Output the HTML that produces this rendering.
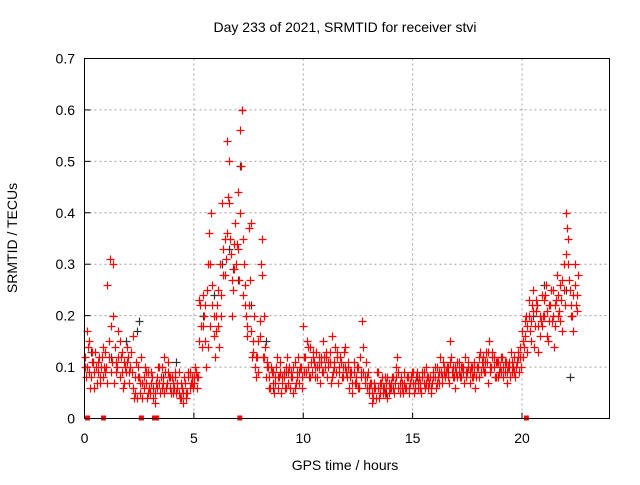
<!DOCTYPE html>
<html><head><meta charset="utf-8"><style>
body{margin:0;background:#fff;font-family:"Liberation Sans",sans-serif}
svg text{font-family:"Liberation Sans",sans-serif;font-size:14px;fill:#000}
</style></head><body>
<svg id="chart" width="640" height="480" xmlns="http://www.w3.org/2000/svg">
<rect width="640" height="480" fill="#fff"/>
<text x="345" y="32" text-anchor="middle">Day 233 of 2021, SRMTID for receiver stvi</text>
<text x="345" y="470" text-anchor="middle">GPS time / hours</text>
<text transform="translate(17,238) rotate(-90)" text-anchor="middle">SRMTID / TECUs</text>
<g id="grid"></g><g id="axes"></g><g id="marks"></g>
<rect x="84.5" y="58.5" width="525" height="360" fill="none" stroke="#000"/>
</svg>
<script>
const xTicks=[0,5,10,15,20];
const yTicks=[0,0.1,0.2,0.3,0.4,0.5,0.6,0.7];
const yTickLabels=["0","0.1","0.2","0.3","0.4","0.5","0.6","0.7"];
const redStart=0, redStep=0.1;
const redValuesA=[0.12,0.10,0.15,0.08,0.11,0.13,0.09,0.07,0.12,0.10,
0.10,0.12,0.09,0.30,0.14,0.10,0.08,0.13,0.11,0.09,
0.12,0.10,0.16,0.05,0.04,0.08,0.12,0.06,0.07,0.09,
0.05,0.08,0.03,0.06,0.10,0.08,0.07,0.09,0.11,0.06,
0.08,0.06,0.05,0.09,0.04,0.03,0.07,0.05,0.06,0.08,
0.07,0.09,0.08,0.22,0.18,0.15,0.25,0.36,0.40,0.20,
0.17,0.25,0.30,0.42,0.35,0.54,0.50,0.32,0.25,0.38,
0.44,0.56,0.60,0.30,0.20,0.37,0.38,0.15,0.10,0.12,
0.16,0.35,0.20,0.08,0.10,0.06,0.09,0.07,0.12,0.08,
0.05,0.09,0.10,0.07,0.06,0.08,0.11,0.09,0.07,0.10,
0.18,0.12,0.10,0.14,0.09,0.11,0.13,0.10,0.12,0.15,
0.10,0.08,0.13,0.16,0.11,0.09,0.07,0.12,0.10,0.14,
0.08,0.06,0.09,0.11,0.07,0.10,0.12,0.19,0.08,0.06,
0.05,0.07,0.04,0.06,0.09,0.05,0.08,0.06,0.07,0.05,
0.06,0.08,0.07,0.12,0.05,0.07,0.09,0.06,0.08,0.07,
0.07,0.06,0.09,0.08,0.05,0.07,0.10,0.06,0.08,0.07,
0.08,0.10,0.07,0.09,0.11,0.08,0.10,0.15,0.09,0.08,
0.09,0.11,0.08,0.10,0.12,0.09,0.07,0.10,0.11,0.08,
0.10,0.13,0.12,0.09,0.11,0.15,0.10,0.12,0.08,0.11,
0.10,0.12,0.09,0.07,0.11,0.13,0.10,0.08,0.12,0.14,
0.17,0.14,0.20,0.23,0.15,0.25,0.18,0.22,0.16,0.24,
0.20,0.26,0.15,0.22,0.25,0.18,0.28,0.21,0.23,0.30,
0.40,0.35,0.25,0.20,0.30,0.24];
const redValuesB=[0.08,0.14,0.06,0.11,0.09,0.07,0.12,0.10,0.08,0.13,
0.26,0.31,0.11,0.07,0.09,0.17,0.12,0.06,0.10,0.14,
0.07,0.09,0.04,0.11,0.08,0.05,0.07,0.10,0.04,0.06,
0.09,0.04,0.07,0.10,0.05,0.06,0.12,0.07,0.08,0.05,
0.05,0.09,0.07,0.04,0.06,0.08,0.05,0.09,0.07,0.06,
0.10,0.08,0.23,0.14,0.20,0.10,0.30,0.18,0.26,0.12,
0.22,0.14,0.20,0.28,0.31,0.43,0.35,0.20,0.29,0.34,
0.27,0.49,0.35,0.22,0.16,0.27,0.12,0.20,0.08,0.09,
0.30,0.12,0.14,0.10,0.06,0.09,0.05,0.10,0.08,0.11,
0.08,0.06,0.12,0.10,0.09,0.05,0.07,0.12,0.10,0.06,
0.09,0.15,0.08,0.11,0.13,0.08,0.10,0.07,0.09,0.12,
0.13,0.11,0.07,0.09,0.14,0.12,0.10,0.08,0.13,0.09,
0.11,0.09,0.05,0.07,0.10,0.06,0.08,0.09,0.11,0.09,
0.07,0.03,0.06,0.09,0.04,0.07,0.05,0.08,0.04,0.06,
0.08,0.05,0.10,0.06,0.08,0.05,0.06,0.08,0.05,0.09,
0.05,0.08,0.06,0.07,0.09,0.06,0.08,0.07,0.05,0.09,
0.06,0.08,0.12,0.07,0.09,0.10,0.07,0.12,0.10,0.06,
0.11,0.08,0.10,0.07,0.09,0.11,0.10,0.08,0.06,0.10,
0.08,0.11,0.09,0.13,0.07,0.10,0.13,0.08,0.11,0.09,
0.12,0.08,0.11,0.10,0.08,0.09,0.12,0.11,0.09,0.10,
0.12,0.19,0.13,0.17,0.22,0.14,0.21,0.13,0.19,0.20,
0.24,0.16,0.22,0.19,0.14,0.23,0.20,0.26,0.17,0.22,
0.37,0.27,0.22,0.17,0.22,0.28];
const redValuesC=[0.10,0.17,0.09,0.13,0.06,0.10,0.11,0.08,0.14,0.09,
0.07,0.15,0.18,0.20,0.11,0.12,0.15,0.09,0.07,0.11,
0.09,0.13,0.06,0.08,0.10,0.07,0.04,0.08,0.09,0.05,
0.07,0.06,0.05,0.08,0.07,0.10,0.05,0.06,0.09,0.08,
0.07,0.08,0.06,0.05,0.07,0.05,0.04,0.08,0.09,0.07,
0.08,0.06,0.15,0.18,0.24,0.22,0.14,0.30,0.22,0.16,
0.20,0.18,0.24,0.33,0.28,0.36,0.42,0.27,0.34,0.30,
0.33,0.40,0.24,0.26,0.18,0.22,0.17,0.13,0.12,0.15,
0.19,0.28,0.12,0.11,0.08,0.10,0.07,0.08,0.06,0.09,
0.07,0.08,0.06,0.09,0.08,0.10,0.06,0.08,0.09,0.08,
0.12,0.09,0.14,0.08,0.12,0.10,0.08,0.12,0.11,0.09,
0.12,0.10,0.11,0.08,0.10,0.13,0.09,0.11,0.08,0.10,
0.10,0.08,0.07,0.09,0.08,0.06,0.09,0.14,0.07,0.08,
0.06,0.05,0.07,0.04,0.06,0.07,0.06,0.05,0.08,0.07,
0.07,0.06,0.08,0.09,0.07,0.06,0.07,0.08,0.06,0.08,
0.09,0.07,0.07,0.06,0.08,0.09,0.07,0.08,0.06,0.08,
0.10,0.07,0.09,0.08,0.10,0.09,0.08,0.11,0.08,0.10,
0.08,0.09,0.10,0.09,0.08,0.10,0.09,0.08,0.09,0.10,
0.12,0.09,0.10,0.11,0.13,0.09,0.12,0.10,0.11,0.08,
0.09,0.10,0.11,0.09,0.10,0.11,0.09,0.10,0.13,0.12,
0.15,0.16,0.18,0.20,0.19,0.21,0.23,0.18,0.20,0.18,
0.23,0.21,0.19,0.25,0.20,0.22,0.24,0.19,0.27,0.25,
0.32,0.30,0.20,0.24,0.26,0.21];
const blackTimes=[0.3,1.2,1.9,2.4,2.5,3.6,4.2,5.4,5.9,6.3,6.6,6.8,7.0,7.1,7.2,7.6,8.3,8.6,9.2,10.8,12.4,13.8,15.2,16.6,18.2,19.6,20.5,21.0,21.9,22.0,22.2];
const blackValues=[0.13,0.12,0.15,0.17,0.19,0.08,0.11,0.20,0.24,0.30,0.33,0.29,0.27,0.49,0.60,0.22,0.15,0.06,0.09,0.11,0.07,0.05,0.08,0.09,0.12,0.10,0.20,0.26,0.30,0.25,0.08];
const zeroTimes=[0.14,0.87,2.6,3.2,3.3,7.1,20.2];

const X0=84.5,X1=609.5,Y0=418.5,Y1=58.5,XMAX=24,YMAX=0.7;
const sx=t=>X0+(X1-X0)*t/XMAX;
const sy=v=>Y0-(Y0-Y1)*v/YMAX;
const NS="http://www.w3.org/2000/svg";
function mk(tag,attrs,parent){const e=document.createElementNS(NS,tag);for(const k in attrs)e.setAttribute(k,attrs[k]);parent.appendChild(e);return e;}
const grid=document.getElementById('grid'),axes=document.getElementById('axes'),marks=document.getElementById('marks');
xTicks.forEach(t=>{
  const x=sx(t);
  if(t>0){const g=mk('line',{x1:x,x2:x,y1:Y1,y2:Y0,stroke:'#a0a0a0','stroke-dasharray':'2,3'},grid);
  
  }
  const l=mk('line',{x1:x,x2:x,y1:Y0,y2:Y0-6,stroke:'#000'},axes);
  
  
  const tx=mk('text',{x:x,y:443,'text-anchor':'middle'},axes);tx.textContent=t;
  
  
});
yTicks.forEach((v,i)=>{
  const y=sy(v);
  if(v>0&&v<0.7){const g=mk('line',{x1:X0,x2:X1,y1:y,y2:y,stroke:'#a0a0a0','stroke-dasharray':'2,3'},grid);
  
  }
  const l=mk('line',{x1:X0,x2:X0+6,y1:y,y2:y,stroke:'#000'},axes);
  
  
  const tx=mk('text',{x:75,y:y+5,'text-anchor':'end'},axes);tx.textContent=yTickLabels[i];
  
  
});
function plus(t,v,color,name){
  const x=Math.round(sx(t))+0.5,y=Math.round(sy(v))+0.5;
  const p=mk('path',{d:`M${x-4},${y}h8M${x},${y-4}v8`,stroke:color,'stroke-width':1.2,fill:'none'},marks);
  
  
}
blackTimes.forEach((t,i)=>plus(t,blackValues[i],'#333','black-point'));
redValuesA.forEach((v,i)=>plus(redStart+i*redStep,v,'#ff0000','red-point'));
redValuesB.forEach((v,i)=>plus(redStart+i*redStep+0.05,v,'#ff0000','red-point'));
redValuesC.forEach((v,i)=>plus(redStart+i*redStep+0.025,v,'#ff0000','red-point'));
zeroTimes.forEach(t=>{
  const r=mk('rect',{x:sx(t)-2.5,y:Y0-3,width:5,height:5,fill:'#ff0000'},marks);
  
  
});
</script>
</body></html>
